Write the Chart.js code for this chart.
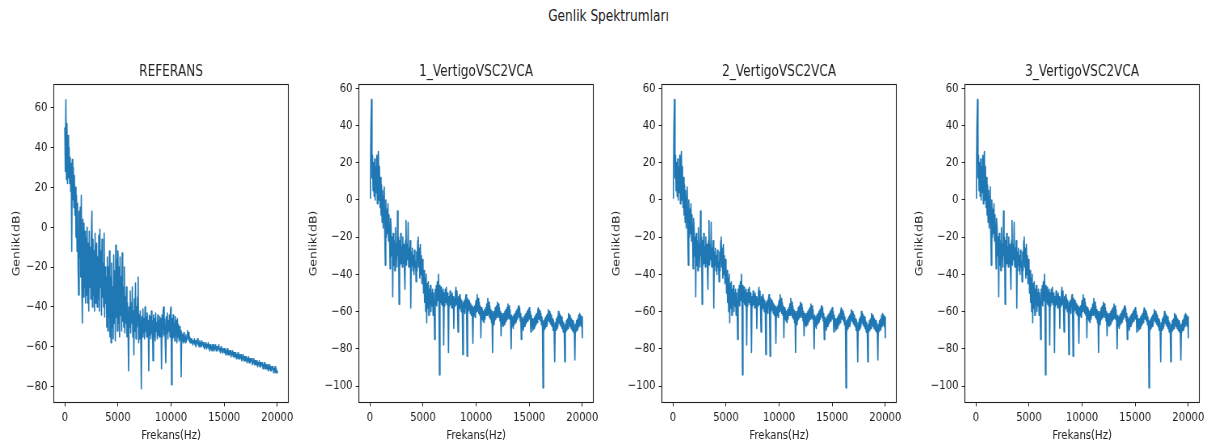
<!DOCTYPE html>
<html>
<head>
<meta charset="utf-8">
<script src="https://cdn.jsdelivr.net/npm/chart.js@4.4.1/dist/chart.umd.min.js"></script>
<style>
  html, body { margin: 0; padding: 0; background: #fff; }
  body { width: 1211px; height: 446px; position: relative; overflow: hidden; font-family: "DejaVu Sans", sans-serif; }
  #baslik { position: absolute; left: 3px; top: 7px; width: 1211px; line-height: 18px; text-align: center;
            font-size: 15px; color: #222; transform: scaleX(0.81); }
  .panel { position: absolute; top: 55px; }
</style>
</head>
<body>
<div id="baslik">Genlik Spektrumları</div>
<canvas id="p0" class="panel"></canvas>
<canvas id="p1" class="panel"></canvas>
<canvas id="p2" class="panel"></canvas>
<canvas id="p3" class="panel"></canvas>
<script>
// Frekans ekseni (Hz), 50 Hz adim
const frekans = [
    0,    50,   100,   150,   200,   250,   300,   350,   400,   450,   500,   550,   600,   650,   700,   750,   800,   850,   900,   950,
 1000,  1050,  1100,  1150,  1200,  1250,  1300,  1350,  1400,  1450,  1500,  1550,  1600,  1650,  1700,  1750,  1800,  1850,  1900,  1950,
 2000,  2050,  2100,  2150,  2200,  2250,  2300,  2350,  2400,  2450,  2500,  2550,  2600,  2650,  2700,  2750,  2800,  2850,  2900,  2950,
 3000,  3050,  3100,  3150,  3200,  3250,  3300,  3350,  3400,  3450,  3500,  3550,  3600,  3650,  3700,  3750,  3800,  3850,  3900,  3950,
 4000,  4050,  4100,  4150,  4200,  4250,  4300,  4350,  4400,  4450,  4500,  4550,  4600,  4650,  4700,  4750,  4800,  4850,  4900,  4950,
 5000,  5050,  5100,  5150,  5200,  5250,  5300,  5350,  5400,  5450,  5500,  5550,  5600,  5650,  5700,  5750,  5800,  5850,  5900,  5950,
 6000,  6050,  6100,  6150,  6200,  6250,  6300,  6350,  6400,  6450,  6500,  6550,  6600,  6650,  6700,  6750,  6800,  6850,  6900,  6950,
 7000,  7050,  7100,  7150,  7200,  7250,  7300,  7350,  7400,  7450,  7500,  7550,  7600,  7650,  7700,  7750,  7800,  7850,  7900,  7950,
 8000,  8050,  8100,  8150,  8200,  8250,  8300,  8350,  8400,  8450,  8500,  8550,  8600,  8650,  8700,  8750,  8800,  8850,  8900,  8950,
 9000,  9050,  9100,  9150,  9200,  9250,  9300,  9350,  9400,  9450,  9500,  9550,  9600,  9650,  9700,  9750,  9800,  9850,  9900,  9950,
10000, 10050, 10100, 10150, 10200, 10250, 10300, 10350, 10400, 10450, 10500, 10550, 10600, 10650, 10700, 10750, 10800, 10850, 10900, 10950,
11000, 11050, 11100, 11150, 11200, 11250, 11300, 11350, 11400, 11450, 11500, 11550, 11600, 11650, 11700, 11750, 11800, 11850, 11900, 11950,
12000, 12050, 12100, 12150, 12200, 12250, 12300, 12350, 12400, 12450, 12500, 12550, 12600, 12650, 12700, 12750, 12800, 12850, 12900, 12950,
13000, 13050, 13100, 13150, 13200, 13250, 13300, 13350, 13400, 13450, 13500, 13550, 13600, 13650, 13700, 13750, 13800, 13850, 13900, 13950,
14000, 14050, 14100, 14150, 14200, 14250, 14300, 14350, 14400, 14450, 14500, 14550, 14600, 14650, 14700, 14750, 14800, 14850, 14900, 14950,
15000, 15050, 15100, 15150, 15200, 15250, 15300, 15350, 15400, 15450, 15500, 15550, 15600, 15650, 15700, 15750, 15800, 15850, 15900, 15950,
16000, 16050, 16100, 16150, 16200, 16250, 16300, 16350, 16400, 16450, 16500, 16550, 16600, 16650, 16700, 16750, 16800, 16850, 16900, 16950,
17000, 17050, 17100, 17150, 17200, 17250, 17300, 17350, 17400, 17450, 17500, 17550, 17600, 17650, 17700, 17750, 17800, 17850, 17900, 17950,
18000, 18050, 18100, 18150, 18200, 18250, 18300, 18350, 18400, 18450, 18500, 18550, 18600, 18650, 18700, 18750, 18800, 18850, 18900, 18950,
19000, 19050, 19100, 19150, 19200, 19250, 19300, 19350, 19400, 19450, 19500, 19550, 19600, 19650, 19700, 19750, 19800, 19850, 19900, 19950, 20000
];

// REFERANS genlik (dB)
const referansGenlik = [
  50,  28,  64,  24,  52,  22,  46,  25,  40,  22,  35,  18,  32, -12,  34,  14,  30,  10,  26,   6,
  20,  -5,  16, -12,  12, -20, -34,   8, -15,  10, -25,  16, -30, -48,   4, -35,   2, -30,  -2, -38,
  -5, -34,   0, -38,  -8, -42,  -2, -30, -10, -36,  -4,   8, -40,  -6, -34, -12, -42,  -3, -38, -14,
  -8, -40, -15, -36,  -4, -42,  -1, -30, -12, -44,  -6, -35, -18, -40,  -3, -45, -20, -38, -25, -50,
 -15, -52, -20, -45, -12, -55, -25, -58, -18, -50, -30, -56, -14, -48, -22, -57,  -9, -45, -16, -52,
 -12, -48, -20, -55, -15, -44, -25, -52, -13, -47, -30, -50, -20, -53, -35, -48, -30, -55, -38, -50,
 -72, -40, -50, -32, -53, -38, -48, -30, -55, -42, -64, -36, -52, -28, -56, -40, -50, -35, -25, -58,
 -44, -56, -42, -54, -81, -45, -55, -41, -53, -46, -56, -40, -52, -45, -55, -43, -53, -47, -72, -44,
 -54, -45, -56, -42, -53, -47, -67, -44, -55, -46, -57, -43, -52, -48, -56, -44, -54, -47, -55, -45,
 -53, -46, -71, -44, -55, -42, -40, -54, -46, -57, -68, -45, -53, -43, -56, -47, -52, -44, -55, -41,
 -40, -79, -46, -56, -44, -55, -48, -57, -45, -54, -47, -58, -46, -55, -49, -57, -50, -56, -52, -75,
 -53, -57, -54, -58, -53, -57, -55, -58, -54, -57, -56, -52, -55, -53, -57, -55, -58, -56, -58, -56,
 -56, -59, -57, -58, -56, -59, -57, -60, -57, -58, -56, -59, -58, -60, -57, -59, -58, -60, -57, -59,
 -58, -60, -58, -61, -59, -60, -58, -61, -59, -60, -58, -61, -59, -62, -59, -61, -60, -62, -59, -61,
 -59, -62, -60, -61, -59, -62, -60, -62, -60, -61, -59, -62, -61, -63, -60, -62, -61, -63, -61, -62,
 -61, -63, -61, -64, -62, -63, -61, -64, -62, -64, -62, -63, -62, -65, -63, -64, -62, -65, -63, -65,
 -63, -65, -63, -66, -64, -65, -63, -66, -64, -66, -64, -65, -64, -67, -65, -66, -64, -67, -65, -67,
 -65, -67, -65, -68, -66, -67, -65, -68, -66, -68, -66, -67, -66, -69, -67, -68, -66, -69, -67, -69,
 -67, -69, -67, -70, -68, -69, -67, -70, -68, -70, -68, -69, -68, -71, -69, -70, -68, -71, -69, -71,
 -69, -71, -69, -72, -70, -71, -69, -72, -70, -72, -70, -71, -70, -73, -71, -72, -70, -73, -71, -73, -72
];

// VertigoVSC2VCA genlik (dB) - uc kayit resimde ayni gorunuyor
const vsc2vcaGenlik = [
   1,  10,  41,  54,  12,  24,   5,  20,   2,  22,   0,  18,   4,  24,  -2,  20,  26,   0,  18,  -4,
  12,  -8,   8, -12,   5, -15,   2,   7, -18, -35,   0, -20,  -5, -18,  -2, -22,  -8, -20, -37, -10,
 -15, -30, -20, -52, -18, -35, -22, -38, -15, -32, -24, -36,  -6, -30, -20, -56, -22, -35, -18, -34,
 -25, -36, -20, -34, -24, -38, -48, -22, -11, -35, -24, -32, -12, -36, -26, -34, -22, -58, -28, -35,
 -26, -38, -30, -40, -27, -36, -33, -44, -28, -38, -22, -20, -36, -26, -42, -24, -40, -30, -45, -32,
 -35, -50, -38, -55, -42, -60, -40, -66, -45, -58, -44, -62, -48, -56, -46, -60, -50, -57, -48, -62,
 -50, -58, -75, -48, -56, -46, -57, -44, -54, -40, -50, -94, -46, -55, -47, -56, -49, -57, -48, -78,
 -50, -57, -48, -55, -47, -56, -50, -58, -82, -52, -57, -49, -56, -51, -58, -50, -57, -52, -69, -53,
 -57, -50, -47, -56, -49, -58, -71, -52, -59, -51, -58, -53, -60, -54, -59, -83, -55, -60, -54, -61,
 -53, -51, -58, -84, -53, -60, -54, -59, -55, -61, -56, -62, -57, -63, -77, -58, -62, -57, -63, -56,
 -54, -60, -51, -59, -53, -61, -55, -62, -57, -74, -58, -64, -59, -65, -60, -66, -59, -64, -58, -62,
 -56, -62, -53, -61, -55, -63, -57, -64, -59, -66, -60, -82, -61, -67, -60, -65, -58, -64, -57, -63,
 -55, -62, -56, -63, -58, -65, -60, -73, -61, -67, -62, -68, -61, -67, -60, -66, -59, -65, -58, -64,
 -56, -63, -57, -64, -59, -66, -80, -62, -68, -63, -69, -62, -67, -61, -66, -60, -65, -59, -64, -58,
 -57, -63, -58, -65, -61, -75, -63, -69, -64, -70, -63, -68, -62, -67, -61, -66, -60, -65, -59, -64,
 -58, -64, -60, -71, -62, -68, -64, -70, -64, -69, -63, -68, -62, -67, -61, -66, -60, -58, -64, -59,
 -60, -65, -61, -67, -63, -69,-101, -65, -70, -64, -69, -63, -68, -62, -67, -61, -59, -65, -60, -66,
 -61, -67, -62, -68, -64, -70, -65, -71, -87, -66, -70, -64, -69, -63, -68, -60, -66, -61, -67, -62,
 -68, -63, -69, -65, -71, -66, -72, -87, -67, -71, -65, -70, -64, -69, -61, -67, -62, -68, -63, -69,
 -64, -70, -65, -71, -66, -72, -86, -67, -71, -65, -70, -64, -69, -62, -68, -61, -67, -62, -68, -63, -74
];

const basliklar = ['REFERANS', '1_VertigoVSC2VCA', '2_VertigoVSC2VCA', '3_VertigoVSC2VCA'];
const xTicks = [0, 5000, 10000, 15000, 20000];
const yTicksRef = [-80, -60, -40, -20, 0, 20, 40, 60];
const yTicksVsc = [-100, -80, -60, -40, -20, 0, 20, 40, 60];

Chart.defaults.font.family = "'DejaVu Sans', sans-serif";
Chart.defaults.color = '#222';

// resim yatayda sikistirilmis; canvas ic genisligi / css genisligi orani
const SIKISMA = 0.81;
const plotSol = [54, 359, 662, 965];   // cizim alani sol kenari (css px)
const eksenGen = [67, 77, 77, 77];      // y ekseni genisligi (canvas px)
const plotGen = 289, sagBosluk = 10, canvasYuk = 391;

// matplotlib tarzi cerceve
const cerceve = {
    id: 'cerceve',
    afterDraw(chart) {
        const { ctx, chartArea: a } = chart;
        ctx.save();
        ctx.strokeStyle = '#222';
        ctx.lineWidth = 1.1;
        ctx.strokeRect(Math.round(a.left) - 0.5, Math.round(a.top) - 0.5, Math.round(a.width) + 1, Math.round(a.height) + 1);
        ctx.restore();
    }
};

const eksiIsaret = v => (v < 0 ? '\u2212' + Math.abs(v) : String(v));

function panelCiz(i, degerler, yTicks, yMin, yMax) {
    const cv = document.getElementById('p' + i);
    const w = eksenGen[i] + plotGen + sagBosluk;
    cv.width = w; cv.height = canvasYuk;
    cv.style.left = (plotSol[i] - eksenGen[i] * SIKISMA) + 'px';
    cv.style.width = (w * SIKISMA) + 'px';
    cv.style.height = canvasYuk + 'px';

    new Chart(cv, {
        type: 'line',
        data: {
            labels: frekans,
            datasets: [{
                data: degerler,
                borderColor: '#1f77b4',
                borderWidth: 1.6,
                borderJoinStyle: 'round',
                pointRadius: 0,
                tension: 0,
                fill: false
            }]
        },
        options: {
            responsive: false,
            animation: false,
            events: [],
            layout: { padding: { left: 0, top: 0, right: sagBosluk, bottom: 0 } },
            plugins: {
                legend: { display: false },
                tooltip: { enabled: false },
                title: {
                    display: true,
                    fullSize: false,
                    text: basliklar[i],
                    color: '#222',
                    font: { size: 15, weight: 'normal' },
                    padding: { top: 8.5, bottom: 3.5 }
                }
            },
            scales: {
                x: {
                    type: 'linear',
                    min: -1000, max: 21000,
                    afterBuildTicks: s => { s.ticks = xTicks.map(v => ({ value: v })); },
                    afterFit: s => { s.height = 44; s.paddingLeft = 0; s.paddingRight = 0; },
                    grid: { display: true, drawOnChartArea: false, drawTicks: true, tickLength: 4.4, color: '#222' },
                    border: { display: false },
                    ticks: { color: '#222', font: { size: 12.5 }, padding: 3.5, maxRotation: 0, callback: v => String(v) },
                    title: { display: true, text: 'Frekans(Hz)', color: '#222', font: { size: 12.5 }, padding: { top: 0, bottom: 3 } }
                },
                y: {
                    min: yMin, max: yMax,
                    afterBuildTicks: s => { s.ticks = yTicks.map(v => ({ value: v })); },
                    afterFit: s => { s.width = eksenGen[i]; s.paddingTop = 0; s.paddingBottom = 0; },
                    grid: { display: true, drawOnChartArea: false, drawTicks: true, tickLength: 4.4, color: '#222' },
                    border: { display: false },
                    ticks: { color: '#222', font: { size: 12.5 }, padding: 4, callback: eksiIsaret },
                    title: { display: true, text: 'Genlik(dB)', color: '#222', font: { size: 12.5 }, padding: { top: 13, bottom: 0 } }
                }
            }
        },
        plugins: [cerceve]
    });
}

panelCiz(0, referansGenlik, yTicksRef, -87.7, 71.4);
panelCiz(1, vsc2vcaGenlik, yTicksVsc, -108.6, 61.8);
panelCiz(2, vsc2vcaGenlik, yTicksVsc, -108.6, 61.8);
panelCiz(3, vsc2vcaGenlik, yTicksVsc, -108.6, 61.8);
</script>
</body>
</html>
